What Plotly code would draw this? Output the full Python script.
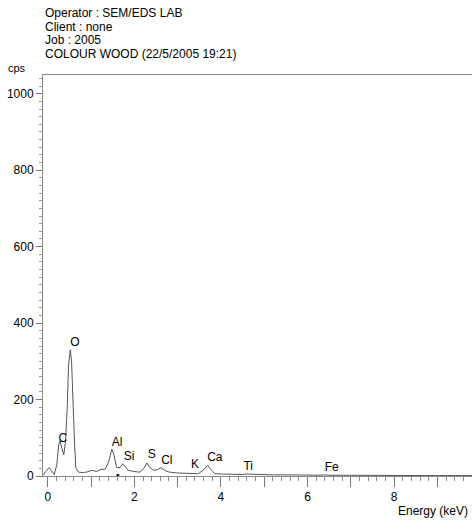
import plotly.graph_objects as go

# ---- data ----
energy_kev = [-0.10, -0.05, 0.03, 0.09, 0.15, 0.21, 0.25, 0.28, 0.32, 0.37, 0.41, 0.45, 0.48,
              0.52, 0.55, 0.58, 0.62, 0.65, 0.71, 0.82, 0.92, 1.02, 1.13, 1.25, 1.32, 1.40,
              1.48, 1.53, 1.59, 1.67, 1.73, 1.79, 1.86, 1.98, 2.13, 2.22, 2.29, 2.36, 2.45,
              2.54, 2.62, 2.71, 2.82, 2.98, 3.20, 3.36, 3.48, 3.59, 3.69, 3.78, 3.86, 4.05,
              4.30, 4.50, 4.60, 4.80, 5.20, 5.60, 6.00, 6.30, 6.40, 6.50, 6.80, 7.20, 8.00,
              9.00, 9.80]
counts_cps = [2, 12, 22, 12, 4, 30, 80, 92, 75, 55, 90, 180, 290,
              330, 300, 180, 80, 20, 10, 9, 11, 15, 12, 18, 17, 35,
              70, 55, 22, 22, 32, 24, 15, 12, 10, 20, 34, 22, 15,
              17, 22, 14, 10, 8, 7, 8, 6, 15, 28, 15, 6, 5,
              4, 4, 5, 4, 3, 3, 2, 2, 3, 2, 2, 1.5, 1,
              1, 1]

element_labels = ["C", "O", "Al", "Si", "S", "Cl", "K", "Ca", "Ti", "Fe"]
label_energy = [0.35, 0.63, 1.60, 1.88, 2.40, 2.75, 3.40, 3.86, 4.63, 6.56]
label_cps = [96, 347, 86, 49, 54, 39, 30, 46, 23, 20]

marker_energy = [1.62]
marker_cps = [2]

x_tick_vals = [0, 1, 2, 3, 4, 5, 6, 7, 8, 9]
x_tick_text = ["0", "", "2", "", "4", "", "6", "", "8", ""]
y_tick_vals = [0, 200, 400, 600, 800, 1000]

header_lines = ["Operator : SEM/EDS LAB", "Client : none", "Job : 2005",
                "COLOUR WOOD (22/5/2005 19:21)"]

# ---- layout geometry (window pixels) ----
W, H = 472, 522
L, R, T, B = 43, 0, 75, 46
pw, ph = W - L - R, H - T - B


def px(xp):
    return (xp - L) / pw


def py(yp):
    return (H - B - yp) / ph


FONT = "Liberation Sans, Arial, sans-serif"
TXT = "#000"

fig = go.Figure()
fig.add_trace(go.Scatter(x=energy_kev, y=counts_cps, mode="lines",
                         line=dict(color="#555", width=1), hoverinfo="skip"))
fig.add_trace(go.Scatter(x=marker_energy, y=marker_cps, mode="markers",
                         marker=dict(color="#111", size=3), hoverinfo="skip"))
fig.add_trace(go.Scatter(x=label_energy, y=label_cps, mode="text", text=element_labels,
                         textfont=dict(family=FONT, size=12, color=TXT),
                         hoverinfo="skip"))

annotations = []
for i, line in enumerate(header_lines):
    annotations.append(dict(text=line, xref="paper", yref="paper", x=px(43),
                            y=py(13 + i * 13.6), xanchor="left", yanchor="middle",
                            showarrow=False, font=dict(family=FONT, size=12, color=TXT)))
annotations.append(dict(text="cps", xref="paper", yref="paper", x=px(6), y=py(68),
                        xanchor="left", yanchor="middle", showarrow=False,
                        font=dict(family=FONT, size=11, color=TXT)))
annotations.append(dict(text="Energy (keV)", xref="paper", yref="paper", x=px(470),
                        y=py(511), xanchor="right", yanchor="middle", showarrow=False,
                        font=dict(family=FONT, size=12, color=TXT)))

fig.update_layout(
    width=W, height=H, margin=dict(l=L, r=R, t=T, b=B, pad=0),
    paper_bgcolor="white", plot_bgcolor="white", showlegend=False,
    annotations=annotations,
    xaxis=dict(range=[-0.11, 9.8], showgrid=False, zeroline=False,
               showline=True, linecolor="#888", linewidth=1, mirror=True,
               tickmode="array", tickvals=x_tick_vals, ticktext=x_tick_text,
               ticks="outside", ticklen=10, tickcolor="#777", tickwidth=1,
               tickfont=dict(family=FONT, size=12, color=TXT),
               minor=dict(dtick=0.2, tick0=0, ticks="outside", ticklen=4,
                          tickcolor="#888", tickwidth=1)),
    yaxis=dict(range=[0, 1049], showgrid=False, zeroline=False,
               showline=True, linecolor="#888", linewidth=1,
               tickmode="array", tickvals=y_tick_vals,
               ticks="outside", ticklen=6, tickcolor="#777", tickwidth=1,
               tickfont=dict(family=FONT, size=12, color=TXT),
               minor=dict(dtick=20, tick0=0, ticks="outside", ticklen=3,
                          tickcolor="#999", tickwidth=1)),
)

fig.write_html("out.html", config={"displayModeBar": False},
               post_script="document.body.style.margin='0';document.body.style.overflow='hidden';")
